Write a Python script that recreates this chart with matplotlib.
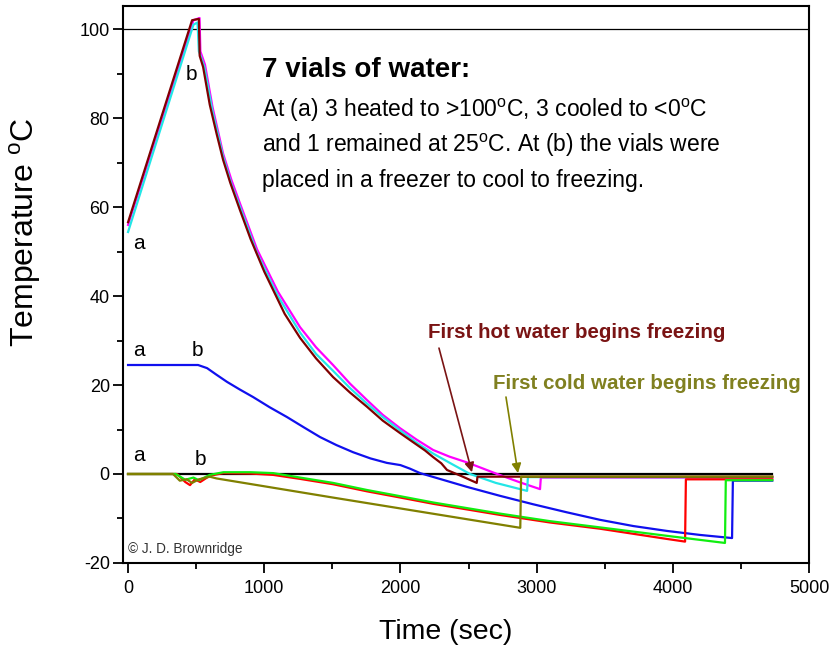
"""Seven vials of water cooled in a freezer (Mpemba style run)."""

import matplotlib

matplotlib.use("Agg")
import matplotlib.pyplot as plt

plt.rcParams["font.family"] = ["Liberation Sans", "DejaVu Sans"]
plt.rcParams["mathtext.fontset"] = "custom"
plt.rcParams["mathtext.rm"] = "Liberation Sans"
plt.rcParams["axes.unicode_minus"] = False

# hot vials
brown_t = [0, 470, 520, 526, 551, 600, 650, 698, 750, 822, 900, 1000, 1150, 1263, 1380, 1505, 1630, 1755, 1870, 1997, 2100, 2180, 2240, 2300, 2342, 2450, 2560, 2566, 4730]
brown_T = [56.6, 102, 102.3, 94, 91.5, 83, 76.5, 70.6, 65.5, 59.3, 52.8, 45.5, 36, 30.6, 26, 21.8, 18.3, 15.1, 12.0, 9.2, 7.0, 5.3, 3.8, 2.4, 0.9, -0.5, -2.0, -0.6, -0.6]

cyan_t = [0, 480, 510, 520, 560, 620, 698, 760, 822, 947, 1100, 1263, 1380, 1505, 1630, 1755, 1870, 1997, 2120, 2240, 2380, 2511, 2700, 2930, 2936, 4730]
cyan_T = [54.4, 101, 101.5, 95, 91.5, 81.5, 71.3, 65, 60, 49.6, 40, 31.8, 27, 23.2, 19.3, 15.8, 12.8, 9.8, 7.0, 4.6, 2.2, 0, -2.0, -3.8, -0.7, -0.7]

magenta_t = [0, 480, 525, 531, 565, 620, 698, 760, 822, 947, 1100, 1263, 1380, 1505, 1630, 1755, 1870, 1997, 2120, 2240, 2360, 2489, 2600, 2710, 2870, 3025, 3031, 4730]
magenta_T = [56, 102, 102.5, 95, 92, 82.5, 72, 66, 60.8, 50.5, 41, 33, 28.5, 24.5, 20.3, 16.6, 13.3, 10.3, 7.7, 5.4, 3.9, 2.6, 1.3, 0, -1.8, -3.4, -0.8, -0.8]

# room temperature vial
blue_t = [0, 514, 580, 650, 727, 820, 918, 1040, 1167, 1290, 1410, 1530, 1652, 1780, 1900, 2000, 2070, 2144, 2300, 2489, 2730, 2974, 3220, 3465, 3710, 3957, 4200, 4435, 4441, 4730]
blue_T = [24.5, 24.5, 23.8, 22.3, 20.7, 19.0, 17.3, 15.0, 12.8, 10.5, 8.3, 6.5, 4.9, 3.5, 2.5, 2.0, 1.2, 0.2, -1.2, -2.9, -4.9, -6.8, -8.6, -10.3, -11.7, -12.8, -13.7, -14.4, -1.5, -1.5]

# cold vials
green_t = [0, 350, 420, 480, 520, 600, 700, 900, 1065, 1263, 1505, 1755, 2000, 2240, 2731, 3098, 3465, 3957, 4383, 4389, 4730]
green_T = [0, 0, -1.3, -0.8, -1.4, -0.2, 0.4, 0.4, 0.2, -0.8, -2.0, -3.6, -5.0, -6.4, -8.9, -10.6, -12.0, -13.9, -15.5, -1.4, -1.4]

red_t = [0, 360, 420, 455, 490, 530, 600, 700, 900, 1065, 1263, 1505, 1755, 2000, 2240, 2731, 3098, 3465, 3957, 4090, 4096, 4730]
red_T = [0, 0, -1.8, -2.5, -1.2, -1.8, -0.4, 0.2, 0.1, -0.2, -1.1, -2.3, -3.9, -5.3, -6.7, -9.2, -10.9, -12.3, -14.6, -15.2, -1.2, -1.2]

olive_t = [0, 330, 380, 430, 470, 520, 600, 650, 1505, 2880, 2886, 4730]
olive_T = [0, 0, -1.5, -1.2, -2.0, -1.2, -0.6, -1.0, -5.3, -12.1, -0.6, -0.6]

zero_t = [0, 4730]
zero_T = [0, 0]

SERIES = [
    (magenta_t, magenta_T, "#ff00ff"),
    (cyan_t, cyan_T, "#22e6e6"),
    (brown_t, brown_T, "#800000"),
    (blue_t, blue_T, "#1010ee"),
    (red_t, red_T, "#ff0000"),
    (green_t, green_T, "#10ee10"),
    (olive_t, olive_T, "#808000"),
]

fig = plt.figure(figsize=(8.38, 6.66), dpi=100)
ax = fig.add_axes([0.1468, 0.1547, 0.8186, 0.8363])

ax.plot(zero_t, zero_T, color="black", lw=1.6, zorder=2)
for t, T, c in SERIES:
    ax.plot(t, T, color=c, lw=1.6, zorder=3)
ax.axhline(100, color="black", lw=0.9, zorder=1)

ax.set_xlim(-37, 5000)
ax.set_ylim(-20, 105.2)
ax.set_xticks(range(0, 5001, 1000))
ax.set_xticks(range(500, 5000, 1000), minor=True)
ax.set_yticks(range(-20, 101, 20))
ax.set_yticks(range(-10, 100, 20), minor=True)
ax.tick_params(which="both", direction="out", top=False, right=False, width=1.3)
ax.tick_params(which="major", length=7.5, labelsize=13)
ax.tick_params(which="minor", length=4)
ax.tick_params(axis="y", pad=2)
ax.tick_params(axis="x", pad=5)
for sp in ax.spines.values():
    sp.set_linewidth(1.5)

fig.text(25 / 838, 1 - 232 / 666, r"Temperature $^{\rm o}$C", rotation=90,
         ha="center", va="center", fontsize=23)
fig.text(446 / 838, 1 - 632 / 666, "Time (sec)", ha="center", va="center",
         fontsize=20.5)

# description
ax.text(984, 89.2, "7 vials of water:", fontsize=20, fontweight="bold")
desc = [
    r"At (a) 3 heated to >100$^{\rm o}$C, 3 cooled to <0$^{\rm o}$C",
    r"and 1 remained at 25$^{\rm o}$C. At (b) the vials were",
    "placed in a freezer to cool to freezing.",
]
for i, line in enumerate(desc):
    ax.text(984, 80.2 - 7.87 * i, line, fontsize=16.5)

# a / b markers
for x, y, s in [(40, 50.5, "a"), (420, 88.5, "b"), (40, 26.5, "a"),
                (470, 26.5, "b"), (40, 3.0, "a"), (490, 2.0, "b")]:
    ax.text(x, y, s, fontsize=15)

ax.text(0, -17.8, "\u00a9 J. D. Brownridge", fontsize=9.8, color="#333333")

ax.text(2203, 31.9, "First hot water begins freezing", color="#7a1414",
        fontsize=14.8, fontweight="bold", va="center")
ax.annotate("", xy=(2525, 0.4), xytext=(2283, 28.3),
            arrowprops=dict(arrowstyle="-|>", color="#7a1414", lw=1.2,
                            mutation_scale=14, shrinkA=0, shrinkB=0))
ax.text(2680, 20.4, "First cold water begins freezing", color="#808020",
        fontsize=14.8, fontweight="bold", va="center")
ax.annotate("", xy=(2863, 0.2), xytext=(2775, 17.3),
            arrowprops=dict(arrowstyle="-|>", color="#808000", lw=1.2,
                            mutation_scale=14, shrinkA=0, shrinkB=0))

fig.savefig("out.png", dpi=100)
